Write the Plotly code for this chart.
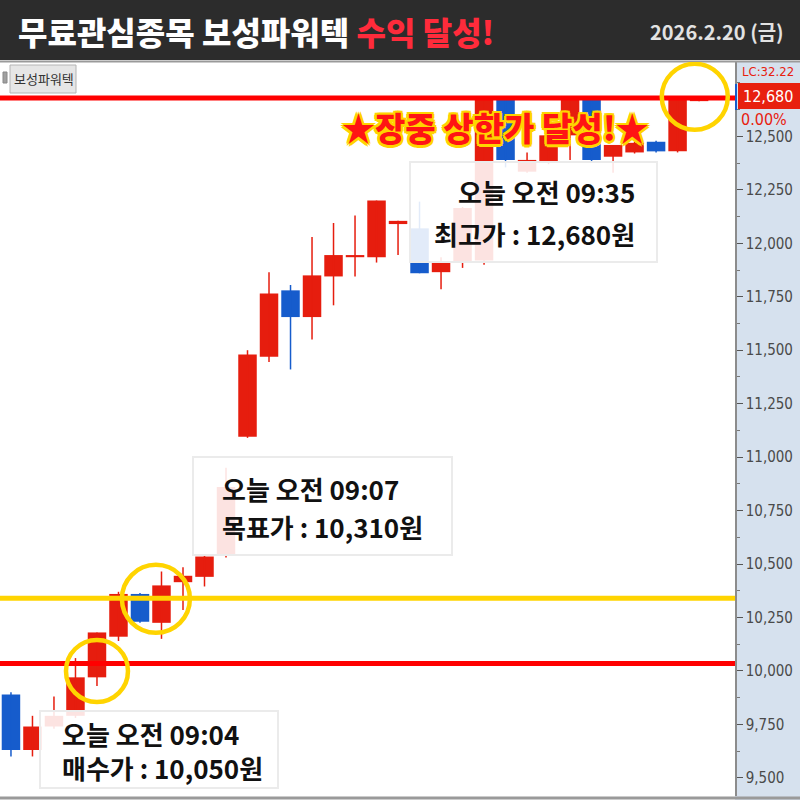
import plotly.graph_objects as go

# ---------------- data ----------------
candle_idx = list(range(33))
opens  = [9890, 9630, 9740, 9790, 9970, 10160, 10360, 10225, 10415, 10440, 10540,
          11095, 11470, 11780, 11655, 11845, 11935, 11935, 12090, 12070, 11865,
          11915, 11920, 12680, 12335, 12380, 12505, 12680, 12405, 12425, 12475,
          12430, 12665]
highs  = [9900, 9790, 9880, 10060, 10180, 10370, 10365, 10465, 10485, 10540, 10950,
          11500, 11865, 11805, 12030, 12095, 12130, 12200, 12105, 12195, 11935,
          12170, 12680, 12680, 12425, 12520, 12680, 12680, 12460, 12475, 12480,
          12680, 12680]
lows   = [9600, 9600, 9730, 9780, 9930, 10140, 10225, 10150, 10285, 10395, 10530,
          11090, 11445, 11410, 11550, 11710, 11845, 11910, 11945, 11860, 11785,
          11885, 11900, 12355, 12330, 12370, 12390, 12380, 12330, 12420, 12425,
          12425, 12665]
closes = [9630, 9740, 9790, 9970, 10180, 10360, 10230, 10400, 10445, 10535, 10860,
          11480, 11765, 11655, 11850, 11945, 11945, 12200, 12105, 11860, 11915,
          12165, 12675, 12390, 12390, 12505, 12680, 12390, 12460, 12470, 12430,
          12680, 12680]

upper_limit_price = 12680   # 상한가 line
target_line_price = 10340   # yellow line (목표가)
buy_line_price = 10035      # red line (매수가)

title_white = "무료관심종목 보성파워텍 "
title_red = "수익 달성!"
date_text = "2026.2.20 (금)"
stock_name = "보성파워텍"
banner_text = "★장중 상한가 달성!★"
notes = [
    ("오늘 오전 09:35", "최고가 : 12,680원"),
    ("오늘 오전 09:07", "목표가 : 10,310원"),
    ("오늘 오전 09:04", "매수가 : 10,050원"),
]
y_tick_vals = [9500, 9750, 10000, 10250, 10500, 10750, 11000, 11250, 11500, 11750, 12000, 12250, 12500]
lc_text = "LC:32.22"
change_text = "0.00%"

# ---------------- styling ----------------
RED = "#e61d0e"
BLUE = "#165ccc"
YELLOW = "#ffd400"
KR = "Noto Sans CJK KR, Noto Sans, sans-serif"
NARROW = "Liberation Sans Narrow, DejaVu Sans Condensed, Arial Narrow, Liberation Sans, sans-serif"

W, H = 800, 800
ML, MR, MT, MB = 0, 65, 62, 4
PW, PH = W - ML - MR, H - MT - MB


def px(x):
    return (x - ML) / PW


def py(y):
    return (H - MB - y) / PH


colors = [RED if c >= o else BLUE for o, c in zip(opens, closes)]

fig = go.Figure()

# wicks
for col in (RED, BLUE):
    wx, wy = [], []
    for i, o, h, l, c, k in zip(candle_idx, opens, highs, lows, closes, colors):
        if k == col:
            wx += [i, i, None]
            wy += [l, h, None]
    fig.add_trace(go.Scatter(x=wx, y=wy, mode="lines", line=dict(color=col, width=1.5),
                             hoverinfo="skip"))

# bodies
fig.add_trace(go.Bar(
    x=candle_idx,
    base=[min(o, c) for o, c in zip(opens, closes)],
    y=[max(abs(c - o), 8) for o, c in zip(opens, closes)],
    width=0.86,
    marker=dict(color=colors, line=dict(width=0)),
    hoverinfo="skip",
))

shapes = []
# header band
shapes.append(dict(type="rect", xref="paper", yref="paper", x0=px(0), x1=px(W), y0=py(60), y1=py(0),
                   fillcolor="#2c2c2c", line=dict(width=0), layer="below"))
# right axis panel
shapes.append(dict(type="rect", xref="paper", yref="paper", x0=px(735), x1=px(W), y0=py(H), y1=py(62),
                   fillcolor="#d6e1ee", line=dict(width=0), layer="below"))
# top and bottom frame lines
shapes.append(dict(type="line", xref="paper", yref="paper", x0=px(0), x1=px(W), y0=py(61.5), y1=py(61.5),
                   line=dict(color="#9a9a9a", width=2)))
shapes.append(dict(type="line", xref="paper", yref="paper", x0=px(0), x1=px(W), y0=py(798), y1=py(798),
                   line=dict(color="#9a9a9a", width=3)))
# horizontal price lines
for price, col in ((upper_limit_price, "#ff0000"), (target_line_price, YELLOW), (buy_line_price, "#ff0000")):
    shapes.append(dict(type="line", xref="paper", yref="y", x0=0, x1=1, y0=price, y1=price,
                       line=dict(color=col, width=5), layer="above"))
# highlight circles (anchored to candles)
for xa, ya, r in ((4, 10000, 31), (6.74, 10337, 34), (31.8, 12685, 33)):
    shapes.append(dict(type="circle", xref="x", yref="y", xsizemode="pixel", ysizemode="pixel",
                       xanchor=xa, yanchor=ya, x0=-r, x1=r, y0=-r, y1=r,
                       line=dict(color=YELLOW, width=4.5), layer="above"))
# note boxes
boxes = [(410, 162, 657, 262), (193, 457, 452, 555), (40, 711, 278, 788)]
for x0, y0, x1, y1 in boxes:
    shapes.append(dict(type="rect", xref="paper", yref="paper", x0=px(x0), x1=px(x1), y0=py(y1), y1=py(y0),
                       fillcolor="rgba(255,255,255,0.88)", line=dict(color="#ebebeb", width=2), layer="above"))
# stock name tag
shapes.append(dict(type="rect", xref="paper", yref="paper", x0=px(10), x1=px(76), y0=py(93), y1=py(65),
                   fillcolor="#e6e6e6", line=dict(color="#b4b4b4", width=1), layer="above"))
shapes.append(dict(type="rect", xref="paper", yref="paper", x0=px(3), x1=px(7), y0=py(83), y1=py(72),
                   fillcolor="#a0a0a0", line=dict(color="#888", width=1), layer="above"))
# price box on axis
shapes.append(dict(type="rect", xref="paper", yref="paper", x0=px(738), x1=px(W), y0=py(109), y1=py(83),
                   fillcolor="#e8200f", line=dict(width=0), layer="above"))
shapes.append(dict(type="line", xref="paper", yref="paper", x0=px(736), x1=px(736), y0=py(110), y1=py(84),
                   line=dict(color=BLUE, width=2), layer="above"))

ann = []
ann.append(dict(xref="paper", yref="paper", x=px(16), y=py(31), xanchor="left", yanchor="middle",
                text=title_white + "<span style='color:#ff2b3b'>" + title_red + "</span>",
                showarrow=False, font=dict(family=KR, size=32, color="white", weight=900)))
ann.append(dict(xref="paper", yref="paper", x=px(786), y=py(32), xanchor="right", yanchor="middle",
                text=date_text, showarrow=False, font=dict(family=KR, size=20, color="#e2e2e2", weight=700)))
ann.append(dict(xref="paper", yref="paper", x=px(43.5), y=py(79), xanchor="center", yanchor="middle",
                text=stock_name, showarrow=False, font=dict(family=KR, size=13, color="#333")))
ann.append(dict(xref="paper", yref="paper", x=px(495), y=py(127), xanchor="center", yanchor="middle",
                text=banner_text, showarrow=False,
                font=dict(family=KR, size=33, color="#ff1414", weight=900,
                          shadow="2px 2px 0 #ffd400, -2px -2px 0 #ffd400, 2px -2px 0 #ffd400, -2px 2px 0 #ffd400, "
                                 "0 2.5px 0 #ffd400, 0 -2.5px 0 #ffd400, 2.5px 0 0 #ffd400, -2.5px 0 0 #ffd400")))
# note texts
note_font = dict(family=KR, size=26, color="#111", weight=700)
for (l1, l2), yy in ((notes[0], (191, 233)), (notes[1], (488, 526))):
    anchor, xx = ("right", 637) if yy[0] < 300 else ("left", 220)
    for txt, yv in ((l1, yy[0]), (l2, yy[1])):
        ann.append(dict(xref="paper", yref="paper", x=px(xx), y=py(yv), xanchor=anchor, yanchor="middle",
                        text=txt, showarrow=False, font=note_font))
ann.append(dict(xref="paper", yref="paper", x=px(60), y=py(750), xanchor="left", yanchor="middle",
                align="left", text=notes[2][0] + "<br>" + notes[2][1], showarrow=False, font=note_font))
# axis side texts
ann.append(dict(xref="paper", yref="paper", x=px(740), y=py(72), xanchor="left", yanchor="middle",
                text=lc_text, showarrow=False, font=dict(family=NARROW, size=13, color="#e8200f")))
ann.append(dict(xref="paper", yref="paper", x=px(741), y=py(96), xanchor="left", yanchor="middle",
                text=f"{upper_limit_price:,}", showarrow=False, font=dict(family=NARROW, size=16, color="white")))
ann.append(dict(xref="paper", yref="paper", x=px(740), y=py(120), xanchor="left", yanchor="middle",
                text=change_text, showarrow=False, bgcolor="#d6e1ee", borderpad=0,
                font=dict(family=NARROW, size=16, color="#e8200f")))

fig.update_layout(
    width=W, height=H,
    margin=dict(l=ML, r=MR, t=MT, b=MB),
    paper_bgcolor="white", plot_bgcolor="white",
    showlegend=False,
    shapes=shapes, annotations=ann,
    xaxis=dict(visible=False, range=[-0.51, 33.67], fixedrange=True),
    yaxis=dict(side="right", range=[9415, 12848], tickmode="array", tickvals=y_tick_vals,
               tickformat=",d",
               ticks="outside", ticklen=6, tickcolor="#555", tickwidth=1,
               showgrid=False, zeroline=False, showline=True, linecolor="#8c8c8c", linewidth=1.5,
               tickfont=dict(family=NARROW, size=15, color="#4a4a4a"),
               minor=dict(dtick=125, tick0=0, ticks="outside", ticklen=3, tickcolor="#777"),
               fixedrange=True),
)

fig.write_html("out.html", config={"displayModeBar": False},
               post_script="document.body.style.margin='0';document.body.style.overflow='hidden';")
